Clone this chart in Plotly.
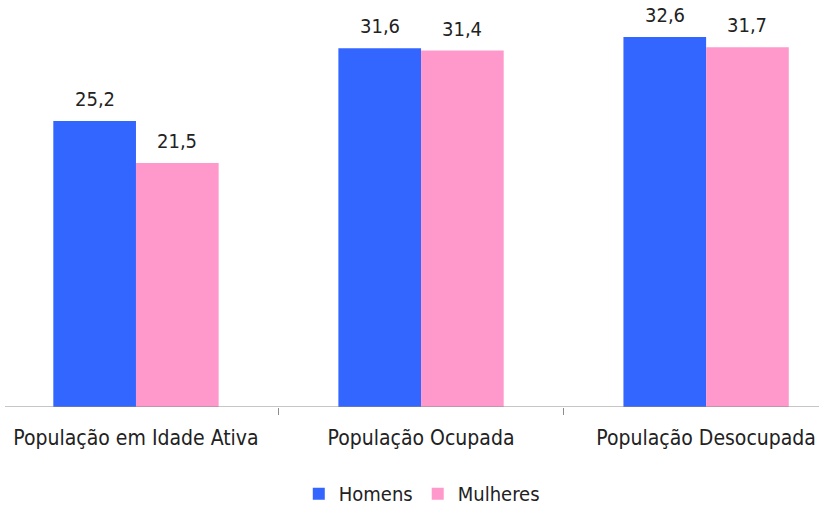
import plotly.graph_objects as go

categorias = ["População em Idade Ativa", "População Ocupada", "População Desocupada"]
homens = [25.2, 31.6, 32.6]
mulheres = [21.5, 31.4, 31.7]

AZUL = "#3366FF"
ROSA = "#FF99CC"

fig = go.Figure()
fig.add_trace(go.Bar(name="Homens", x=categorias, y=homens,
                     marker=dict(color=AZUL, line=dict(width=0))))
fig.add_trace(go.Bar(name="Mulheres", x=categorias, y=mulheres,
                     marker=dict(color=ROSA, line=dict(width=0))))

# value labels above each bar (comma decimal separator)
for serie, dx in ((homens, -41), (mulheres, 41)):
    for cat, v in zip(categorias, serie):
        fig.add_annotation(
            x=cat, y=v, xshift=dx, yshift=8, yanchor="bottom",
            text=f"{v:.1f}".replace(".", ","), showarrow=False,
            font=dict(size=20, color="#222"),
        )

# baseline axis line
fig.add_shape(type="line", xref="paper", yref="y", x0=5 / 819, x1=1, y0=0, y1=0,
              line=dict(color="#8c8c8c", width=1))

fig.update_layout(
    width=819, height=510,
    margin=dict(l=0, r=0, t=0, b=103, autoexpand=False),
    paper_bgcolor="white", plot_bgcolor="white",
    barmode="group", bargap=0.42, bargroupgap=0,
    font=dict(family="DejaVu Sans Condensed, DejaVu Sans", size=16, color="#222"),
    showlegend=True,
    legend=dict(orientation="h", x=0.515, xanchor="center", y=-0.165, yanchor="top",
                font=dict(size=20), traceorder="normal"),
    xaxis=dict(
        type="category", range=[-0.477, 2.396],
        showline=False,
        ticks="outside", tickson="boundaries", ticklen=7, tickcolor="#8c8c8c",
        tickfont=dict(size=21), ticklabelstandoff=16, showgrid=False,
    ),
    yaxis=dict(range=[0, 35.86], visible=False, showgrid=False, zeroline=False),
)

fig.write_html("out.html")
